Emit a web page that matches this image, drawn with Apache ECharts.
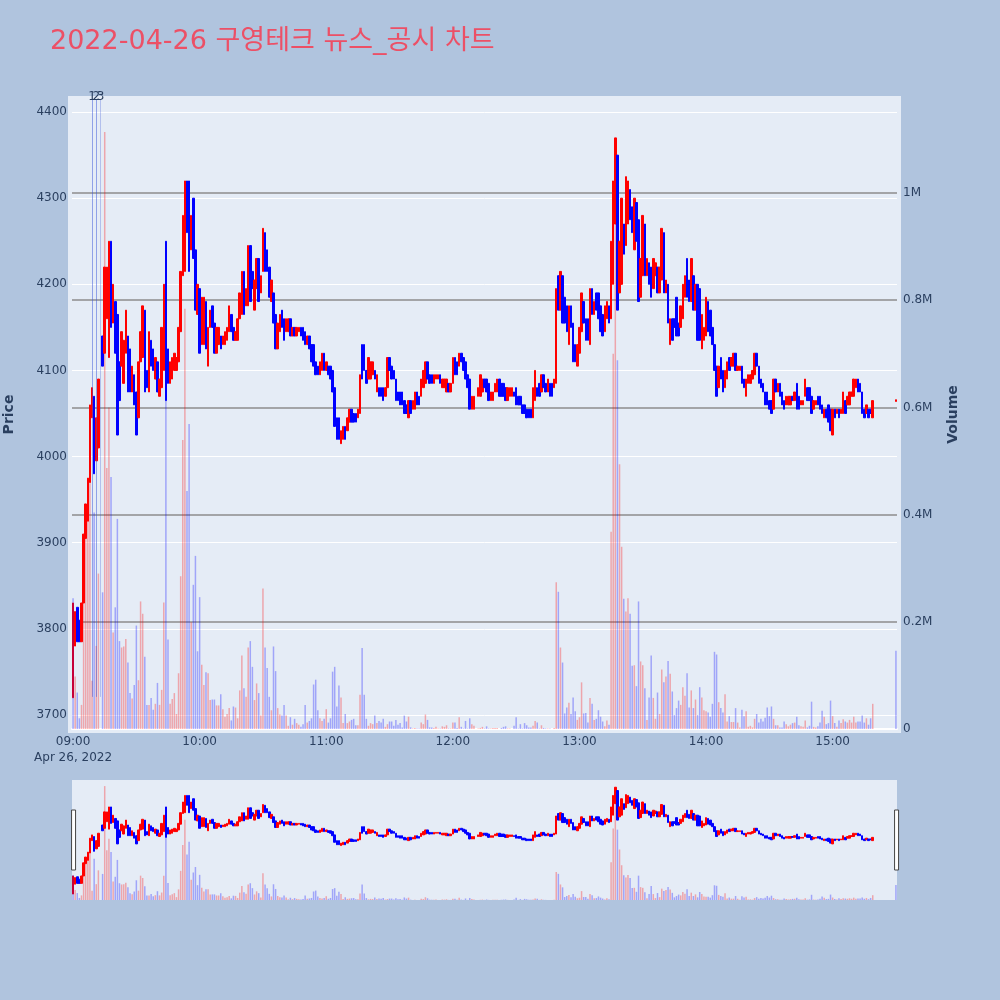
<!DOCTYPE html>
<html>
<head>
<meta charset="utf-8">
<style>html,body{margin:0;padding:0;background:#b0c4de}#c{width:1000px;height:1000px}</style>
<script src="https://cdn.jsdelivr.net/npm/echarts@6/dist/echarts.min.js"></script>
</head>
<body>
<div id="c"></div>
<script>
var titleText = '2022-04-26 구영테크 뉴스_공시 차트';
var priceTicks = [3700,3800,3900,4000,4100,4200,4300,4400];
var volumeTicks = [0,200,400,600,800,1000];
var opens = [
3720,3780,3825,3810,3785,3830,3905,3925,3970,4045,
4070,3995,4010,null,4140,4120,4160,4115,4250,4155,
4180,4165,4110,4105,4085,4120,4140,4125,4075,4095,
4075,4045,4110,4115,4170,4100,4075,4135,4125,4090,
4110,4070,4080,4100,4250,4125,4085,4090,4100,4100,
4110,4145,4210,4215,4320,4320,4240,4300,4240,4165,
4195,4130,4130,4180,4105,4150,4175,4155,4120,4130,
4140,4130,4130,4135,4145,4165,4150,4135,4135,4160,
4165,4215,4175,4175,4245,4215,4170,4195,4230,4190,
4215,4260,4240,4220,4180,4190,4165,4125,4145,4170,
4160,4145,4145,4160,4140,4150,4140,4145,4150,4150,
4145,4130,4140,4130,4130,4110,4105,4095,4100,4120,
4100,4105,4105,4100,4080,4045,4045,4015,4020,4035,
4030,4040,4055,4050,4050,4045,4050,4130,4130,4100,
4090,4090,4095,4100,4075,4080,4080,4080,4070,4080,
4115,4105,4100,4090,4075,4075,4075,4065,4060,4045,
4065,4055,4055,4075,4070,4070,4080,4085,4110,4095,
4095,4085,4090,4090,4095,4080,4080,4075,4085,4075,
4085,4115,4110,4105,4120,4115,4110,4095,4090,4055,
4055,null,4070,4070,4075,4090,4090,4085,4065,4065,
4075,4075,4090,4085,4085,4080,4065,4070,4070,
4075,4080,4070,4070,4060,4060,4055,4055,4055,4045,
4065,4080,4085,4075,4095,4085,4075,4085,4085,4080,
4085,4210,4170,4210,4185,4175,4130,4175,4155,4130,
4105,4120,4145,4180,4160,4160,4130,4195,4165,4190,
4190,4175,4165,4145,4160,4175,4160,4200,4270,4350,
4190,4200,4270,4245,4270,4310,4290,4240,4295,4275,
4185,4210,4270,4210,4225,4220,4195,4210,4220,4190,
4205,4260,4190,4200,4130,4160,4160,4185,4155,4150,
4160,4185,4230,4205,4180,4210,4170,4200,4195,4125,
4135,4140,4180,4170,4150,4130,4105,4080,4115,4100,4080,
4090,4115,4105,4105,4120,4100,4100,4105,4090,4070,
4085,4085,4090,4095,4120,4105,4090,4085,4075,4075,
4065,4065,4055,4090,4075,4085,4075,4065,4060,4060,
4060,4070,4065,4085,4070,4060,4060,4070,4080,4080,
4070,4055,4060,4070,4070,4060,4045,4055,4060,4055,
4025,4055,4050,4055,4050,4050,4065,4060,4060,4070,
4070,4080,4090,4085,4075,4055,4050,4055,4055,4045,
null,null,null,null,null,null,null,null,null,null,
4064];
var closes = [
3830,3820,3785,3785,3830,3910,3945,3975,4060,4080,
3980,4045,4090,null,4105,4220,4220,4250,4150,4200,
4120,4025,4065,4145,4135,4170,4075,4075,4105,4060,
4025,4110,4145,4175,4075,4080,4145,4105,4100,4115,
4075,4090,4150,4200,4065,4085,4110,4115,4120,4115,
4150,4215,4280,4320,4260,4215,4280,4230,4170,4200,
4120,4185,4185,4125,4150,4170,4150,4120,4150,4150,
4125,4140,4145,4150,4175,4145,4135,4145,4160,4190,
4215,4165,4195,4245,4180,4195,4205,4230,4180,4210,
4265,4215,4215,4185,4205,4155,4125,4155,4165,4150,
4135,4160,4160,4140,4150,4140,4150,4150,4140,4135,
4130,4140,4125,4110,4105,4095,4095,4110,4120,4100,
4110,4095,4090,4075,4035,4020,4020,4030,4035,4020,
4045,4055,4040,4040,4040,4055,4095,4090,4100,4085,
4115,4110,4110,4090,4095,4070,4070,4065,4080,4115,
4100,4090,4090,4065,4065,4060,4060,4050,4050,4065,
4050,4065,4075,4060,4060,4090,4100,4110,4090,4085,
4085,4095,4095,4095,4085,4090,4090,4090,4075,4085,
4115,4095,4095,4120,4110,4100,4090,4080,4055,4070,
4070,null,4080,4095,4090,4080,4075,4065,4075,4075,
4085,4090,4070,4070,4070,4065,4080,4080,4080,
4070,4060,4060,4060,4050,4050,4045,4045,4045,4080,
4100,4070,4070,4095,4080,4075,4090,4070,4070,4090,
4195,4170,4215,4155,4155,4145,4175,4150,4110,4110,
4130,4150,4190,4155,4135,4135,4195,4165,4180,4170,
4160,4145,4140,4175,4180,4155,4250,4320,4370,4170,
4250,4300,4235,4325,4320,4275,4260,4300,4250,4180,
4230,4280,4210,4230,4200,4185,4230,4225,4190,4220,
4265,4190,4205,4155,4160,4135,4150,4140,4140,4175,
4200,4210,4185,4180,4230,4170,4200,4135,4135,4165,
4150,4185,4145,4140,4130,4100,4070,4105,4090,4075,4100,
4110,4100,4115,4120,4100,4105,4105,4085,4080,4090,
4095,4095,4100,4120,4105,4085,4080,4075,4060,4060,
4055,4050,4090,4075,4085,4070,4060,4055,4070,4070,
4070,4065,4075,4055,4055,4065,4065,4090,4065,4065,
4050,4065,4065,4060,4055,4050,4055,4045,4040,4030,
4055,4045,4055,4045,4055,4075,4050,4070,4075,4075,
4090,4090,4075,4075,4050,4045,4060,4045,4050,4065,
null,null,null,null,null,null,null,null,null,null,
4066];
var volumes = [
244,98,68,20,45,258,380,460,470,90,
404,155,290,0,255,1114,487,600,470,180,
227,392,164,152,154,168,124,67,57,82,
193,91,238,215,135,45,45,58,36,47,
86,45,73,236,830,167,47,56,67,28,
104,285,539,784,444,569,199,269,323,145,
246,120,82,106,104,54,55,55,44,44,
65,37,23,28,39,16,42,40,20,72,
137,76,60,152,164,116,54,85,67,25,
262,152,114,60,35,154,108,39,27,25,
45,25,6,22,8,19,11,8,4,9,
45,12,15,20,83,92,35,20,15,19,
37,12,20,107,116,42,81,59,11,28,
11,14,17,19,7,7,64,151,64,19,
6,11,9,25,11,15,12,19,4,9,
14,14,6,17,8,11,3,25,14,23,
3,1,2,1,1,12,9,27,17,3,
3,2,4,1,1,5,4,7,1,1,
12,12,2,22,4,1,15,1,20,9,
6,0,1,2,4,1,5,1,1,2,
2,2,0,2,4,5,1,1,0,6,
22,1,9,1,11,7,3,3,6,15,
12,1,7,2,1,1,1,0,2,274,
256,152,124,29,40,49,28,59,33,17,
22,87,29,30,12,58,47,17,19,35,
23,14,5,16,8,368,700,1100,688,494,
340,243,219,244,215,118,119,80,238,126,
119,76,17,59,137,58,19,68,28,111,
87,98,127,103,70,26,39,53,45,78,
62,104,40,72,39,55,26,78,59,35,
33,31,23,47,144,139,50,39,31,65,
14,24,13,13,39,12,3,36,24,33,
4,6,3,19,28,12,19,14,21,40,
24,42,19,7,7,3,3,14,9,5,
8,11,12,23,7,5,4,16,3,6,
51,4,3,5,12,34,23,9,11,53,
24,11,4,16,11,18,14,12,17,12,
23,12,14,14,25,12,20,8,20,47,
null,null,null,null,null,null,null,null,null,null,
146];
var blueVolumeTimes = ['09:00','09:59','15:30'];
var newsTimes = ['09:09','09:11','09:13'];
var newsLabels = ['1','2','3'];
var newsFloor = 3721;
var newsColors = ['rgba(60,85,215,.5)','rgba(60,85,215,.5)','rgba(60,85,215,.3)'];

var priceMin = 3683.7, priceMax = 4414;
var volumeMax = 1173.5;
var inkColor = '#2a3f5f';
var plotBg = '#e5ecf6';
var fontName = '"DejaVu Sans","Noto Sans CJK KR",sans-serif';

var categories = [];
for (var h = 9; h <= 15; h++) {
  for (var m = 0; m < 60; m++) {
    if (h === 15 && m > 30) break;
    categories.push((h < 10 ? '0' : '') + h + ':' + (m < 10 ? '0' : '') + m);
  }
}
var candleData = opens.map(function (o, i) {
  if (o === null) return ['-', '-', '-', '-'];
  var c = closes[i];
  return [o, c, Math.min(o, c), Math.max(o, c)];
});
var volumeData = volumes.map(function (v, i) {
  var up = closes[i] > opens[i] && blueVolumeTimes.indexOf(categories[i]) < 0;
  return { value: v === null ? '-' : v,
    itemStyle: { color: up ? 'rgba(255,0,0,.3)' : 'rgba(0,0,255,.3)' } };
});
function candleStyle() {
  return { color: '#ff0000', color0: '#0000ff', borderColor: '#ff0000', borderColor0: '#0000ff', borderWidth: 1 };
}
var newsLines = newsTimes.map(function (t, i) {
  return [
    { xAxis: t, yAxis: newsFloor, name: newsLabels[i],
      lineStyle: { color: newsColors[i], width: 1, type: 'solid' } },
    { xAxis: t, yAxis: priceMax }
  ];
});
var chart = echarts.init(document.getElementById('c'), null, { renderer: 'canvas' });
chart.setOption({
  animation: false,
  backgroundColor: '#b0c4de',
  textStyle: { fontFamily: fontName },
  title: { text: titleText, left: 50, top: 28, padding: 0,
    textStyle: { color: '#ec5066', fontSize: 27, fontWeight: 'normal', fontFamily: fontName } },
  graphic: [{ type: 'rect', z: -1, silent: true,
    shape: { x: 68, y: 96, width: 833, height: 637 }, style: { fill: plotBg } }],
  grid: [
    { left: 72, width: 825, top: 100, height: 629, outerBoundsMode: 'none' },
    { left: 72, width: 825, top: 780, height: 120, show: true, backgroundColor: plotBg, borderWidth: 0, outerBoundsMode: 'none' }
  ],
  xAxis: [
    { type: 'category', gridIndex: 0, data: categories, boundaryGap: true,
      axisLine: { show: true, lineStyle: { color: '#ffffff', width: 2 } },
      axisTick: { show: false },
      axisLabel: { color: inkColor, fontSize: 12, lineHeight: 16, margin: 5, hideOverlap: false,
        interval: function (i, v) { return v.slice(3) === '00'; },
        formatter: function (v) { return v === '09:00' ? '09:00\nApr 26, 2022' : v; } },
      splitLine: { show: false } },
    { type: 'category', gridIndex: 1, data: categories, boundaryGap: true,
      axisLine: { show: false }, axisTick: { show: false }, axisLabel: { show: false }, splitLine: { show: false } }
  ],
  yAxis: [
    { type: 'value', gridIndex: 0, min: priceMin, max: priceMax, position: 'left',
      name: 'Price', nameLocation: 'middle', nameGap: 56, nameRotate: 90,
      nameTextStyle: { color: inkColor, fontSize: 14, fontWeight: 'bold' },
      axisLine: { show: false },
      axisTick: { show: false, customValues: priceTicks },
      axisLabel: { color: inkColor, fontSize: 12, margin: 5, customValues: priceTicks,
        formatter: function (v) { return String(v); } },
      splitLine: { show: true, lineStyle: { color: '#ffffff', width: 1 } } },
    { type: 'value', gridIndex: 0, min: 0, max: volumeMax, position: 'right',
      name: 'Volume', nameLocation: 'middle', nameGap: 49, nameRotate: 90,
      nameTextStyle: { color: inkColor, fontSize: 14, fontWeight: 'bold' },
      axisLine: { show: false },
      axisTick: { show: false, customValues: volumeTicks },
      axisLabel: { color: inkColor, fontSize: 12, margin: 6, customValues: volumeTicks,
        formatter: function (v) { return v === 0 ? '0' : (v / 1000) + 'M'; } },
      splitLine: { show: true, lineStyle: { color: '#8c8c8c', width: 1.5 } } },
    { type: 'value', gridIndex: 1, min: priceMin, max: priceMax, show: false, splitLine: { show: false } },
    { type: 'value', gridIndex: 1, min: 0, max: volumeMax, show: false, splitLine: { show: false } }
  ],
  dataZoom: [{
    type: 'slider', xAxisIndex: [0, 1], filterMode: 'none', start: 0, end: 100,
    left: 72, width: 825, top: 780, height: 120,
    backgroundColor: 'rgba(0,0,0,0)', fillerColor: 'rgba(0,0,0,0)', borderColor: 'rgba(0,0,0,0)',
    showDetail: false, showDataShadow: false, brushSelect: false, moveHandleSize: 0,
    handleIcon: 'path://M0,0 H4 V60 H0 Z', handleSize: '50%',
    handleStyle: { color: '#ffffff', borderColor: '#444444', borderWidth: 1 }
  }],
  series: [
    { type: 'candlestick', xAxisIndex: 0, yAxisIndex: 0, z: 2, barWidth: 2, data: candleData,
      itemStyle: candleStyle(),
      markLine: { silent: true, symbol: 'none', animation: false, data: newsLines,
        label: { show: true, position: 'end', distance: -3, color: inkColor, fontSize: 12, formatter: '{b}' } } },
    { type: 'bar', xAxisIndex: 0, yAxisIndex: 1, z: 3, barWidth: 1.5, data: volumeData },
    { type: 'candlestick', xAxisIndex: 1, yAxisIndex: 2, z: 2, barWidth: 2, data: candleData,
      itemStyle: candleStyle() },
    { type: 'bar', xAxisIndex: 1, yAxisIndex: 3, z: 3, barWidth: 1.5, data: volumeData }
  ]
});
</script>
</body>
</html>
